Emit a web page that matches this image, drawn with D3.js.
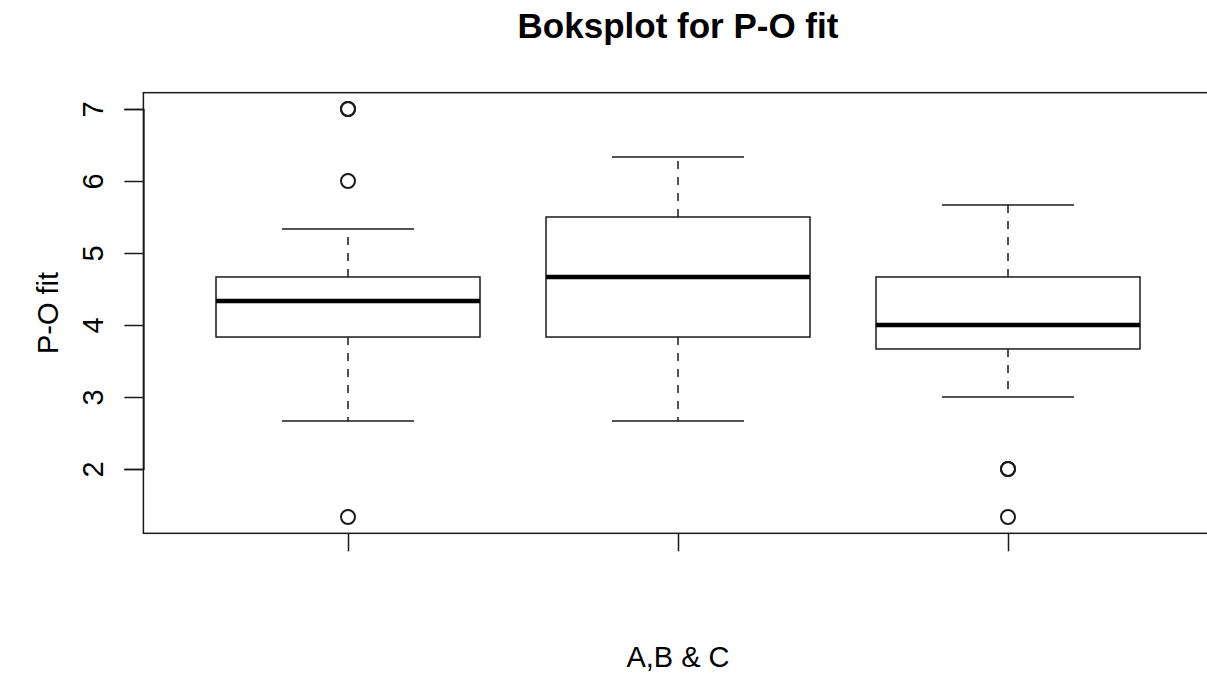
<!DOCTYPE html>
<html>
<head>
<meta charset="utf-8">
<script src="https://cdn.jsdelivr.net/npm/d3@7"></script>
<style>
    body { margin: 0; background: #fff; }
    svg { display: block; font-family: 'Liberation Sans', Arial, sans-serif; }
</style>
</head>
<body>
<div id="chart"></div>
<script>
// Groups and five-number summaries
const groups = [1, 2, 3]
const lowerWhisker = [2.667, 2.667, 3.0]
const q1 = [3.833, 3.833, 3.667]
const median = [4.333, 4.667, 4.0]
const q3 = [4.667, 5.5, 4.667]
const upperWhisker = [5.333, 6.333, 5.667]
const outliers = [
    [7, 7, 6, 1.333],
    [],
    [2, 2, 1.333],
]
const yTicks = [2, 3, 4, 5, 6, 7]

const title = 'Boksplot for P-O fit'
const xLabel = 'A,B & C'
const yLabel = 'P-O fit'

// Config
const W = 1207
const H = 675
const ink = '#1a1a1a'

const svg = d3
    .select('#chart')
    .append('svg')
    .attr('width', W)
    .attr('height', H)

// Scales (R style: xlim 0.5..3.5 extended 4%, ylim data range extended 4%)
const x = d3.scaleLinear().domain([0.38, 3.62]).range([143.4, 1212.6])
const y = d3.scaleLinear().domain([2, 7]).range([469, 109])
const yMin = 1.1067
const yMax = 7.2267
const boxHalf = 0.4
const capHalf = 0.2

// Plot frame
svg.append('rect')
    .attr('x', x(0.38))
    .attr('y', y(yMax))
    .attr('width', x(3.62) - x(0.38))
    .attr('height', y(yMin) - y(yMax))
    .attr('fill', 'none')
    .attr('stroke', ink)
    .attr('stroke-width', 1.5)

// Boxes
const rows = groups.map((g, i) => ({
    g,
    lo: lowerWhisker[i],
    q1: q1[i],
    med: median[i],
    q3: q3[i],
    hi: upperWhisker[i],
    out: outliers[i],
}))

const box = svg.append('g').selectAll('g').data(rows).join('g')

// Whiskers (dashed)
box.append('line')
    .attr('x1', (d) => x(d.g))
    .attr('x2', (d) => x(d.g))
    .attr('y1', (d) => y(d.q3))
    .attr('y2', (d) => y(d.hi))
    .attr('stroke', ink)
    .attr('stroke-width', 1.5)
    .attr('stroke-dasharray', '8,8')

box.append('line')
    .attr('x1', (d) => x(d.g))
    .attr('x2', (d) => x(d.g))
    .attr('y1', (d) => y(d.q1))
    .attr('y2', (d) => y(d.lo))
    .attr('stroke', ink)
    .attr('stroke-width', 1.5)
    .attr('stroke-dasharray', '8,8')

// Staples
box.selectAll('.cap')
    .data((d) => [
        { g: d.g, v: d.lo },
        { g: d.g, v: d.hi },
    ])
    .join('line')
    .attr('class', 'cap')
    .attr('x1', (d) => x(d.g - capHalf))
    .attr('x2', (d) => x(d.g + capHalf))
    .attr('y1', (d) => y(d.v))
    .attr('y2', (d) => y(d.v))
    .attr('stroke', ink)
    .attr('stroke-width', 1.5)

// Box body
box.append('rect')
    .attr('x', (d) => x(d.g - boxHalf))
    .attr('y', (d) => y(d.q3))
    .attr('width', (d) => x(d.g + boxHalf) - x(d.g - boxHalf))
    .attr('height', (d) => y(d.q1) - y(d.q3))
    .attr('fill', '#fff')
    .attr('stroke', ink)
    .attr('stroke-width', 1.5)

// Median
box.append('line')
    .attr('x1', (d) => x(d.g - boxHalf))
    .attr('x2', (d) => x(d.g + boxHalf))
    .attr('y1', (d) => y(d.med))
    .attr('y2', (d) => y(d.med))
    .attr('stroke', '#000')
    .attr('stroke-width', 4.5)

// Outliers
box.selectAll('circle')
    .data((d) => d.out.map((v) => ({ g: d.g, v })))
    .join('circle')
    .attr('cx', (d) => x(d.g))
    .attr('cy', (d) => y(d.v))
    .attr('r', 7)
    .attr('fill', 'none')
    .attr('stroke', ink)
    .attr('stroke-width', 2)

// Axes
const yAxis = d3
    .axisLeft(y)
    .tickValues(yTicks)
    .tickSize(19)
    .tickPadding(0)
    .tickFormat(d3.format('d'))

const yAxisG = svg.append('g')
    .attr('transform', `translate(${x(0.38)},0)`)
    .call(yAxis)
yAxisG.select('.domain').attr('stroke', ink).attr('stroke-width', 1.5)
yAxisG.selectAll('.tick line').attr('stroke', ink).attr('stroke-width', 1.5)
yAxisG.selectAll('.tick text')
    .attr('x', null)
    .attr('dy', null)
    .attr('transform', `translate(${103 - x(0.38)},0) rotate(-90)`)
    .attr('text-anchor', 'middle')
    .attr('fill', '#000')
    .style('font-size', '29px')

const xAxis = d3
    .axisBottom(x)
    .tickValues(groups)
    .tickSize(18)
    .tickFormat('')

const xAxisG = svg.append('g')
    .attr('transform', `translate(0,${y(yMin)})`)
    .call(xAxis)
xAxisG.select('.domain').remove()
xAxisG.selectAll('.tick line').attr('stroke', ink).attr('stroke-width', 1.5)

// Titles
svg.append('text')
    .attr('x', (x(0.38) + x(3.62)) / 2)
    .attr('y', 38)
    .attr('text-anchor', 'middle')
    .style('font-size', '35px')
    .style('font-weight', 'bold')
    .text(title)

svg.append('text')
    .attr('x', (x(0.38) + x(3.62)) / 2)
    .attr('y', 667)
    .attr('text-anchor', 'middle')
    .style('font-size', '29px')
    .text(xLabel)

svg.append('text')
    .attr('transform', `translate(58,${(y(yMin) + y(yMax)) / 2}) rotate(-90)`)
    .attr('text-anchor', 'middle')
    .style('font-size', '29px')
    .text(yLabel)
</script>
</body>
</html>
